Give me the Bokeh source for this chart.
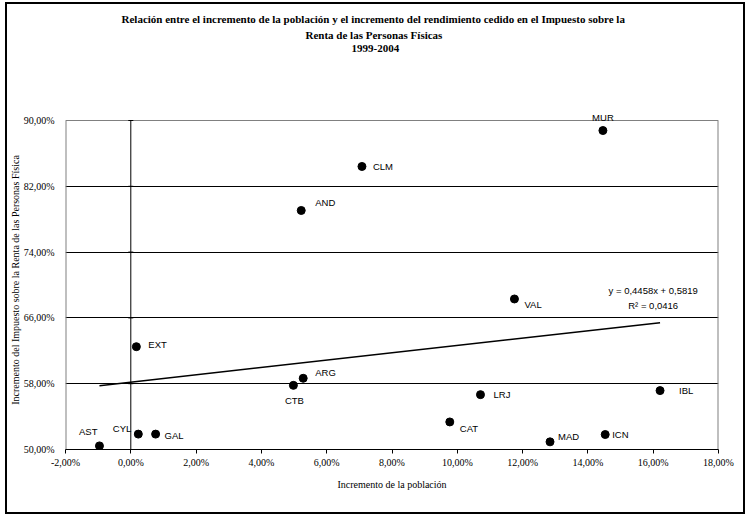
import numpy as np
from bokeh.plotting import figure
from bokeh.models import FixedTicker, Label, Title, ColumnDataSource
from bokeh.embed import file_html
from bokeh.resources import INLINE

# Comunidades autónomas: incremento de población e incremento del IRPF cedido (1999-2004), en %
regions = ["AND", "ARG", "AST", "IBL", "ICN", "CTB", "CLM", "CYL",
           "CAT", "EXT", "GAL", "MAD", "MUR", "LRJ", "VAL"]
pop_growth = [5.22, 5.28, -0.96, 16.21, 14.53, 4.98, 7.08, 0.23,
              9.77, 0.17, 0.76, 12.84, 14.46, 10.71, 11.75]
irpf_growth = [79.06, 58.66, 50.44, 57.16, 51.82, 57.80, 84.41, 51.87,
               53.35, 62.50, 51.87, 50.93, 88.78, 56.67, 68.30]

# Linear trend (fraction units) as reported on the chart
trend_slope = 0.4458
trend_intercept = 0.5819
trend_r2 = 0.0416

x_ticks = [-2, 0, 2, 4, 6, 8, 10, 12, 14, 16, 18]
x_tick_labels = ["-2,00%", "0,00%", "2,00%", "4,00%", "6,00%", "8,00%",
                 "10,00%", "12,00%", "14,00%", "16,00%", "18,00%"]
y_ticks = [50, 58, 66, 74, 82, 90]
y_tick_labels = ["50,00%", "58,00%", "66,00%", "74,00%", "82,00%", "90,00%"]

title_lines = [
    "Relación entre el incremento de la población y el incremento del rendimiento cedido en el Impuesto sobre la",
    "Renta de las Personas Físicas",
    "1999-2004",
]
x_title = "Incremento de la población"
y_title = "Incremento del Impuesto sobre la Renta de las Personas Física"

# Label placement per region: (dx, dy) in pixels (dy downwards) and alignment
label_style = {
    "MUR": (0, -13, "center"), "CLM": (11, 0, "left"), "AND": (14, -8, "left"),
    "VAL": (10, 6, "left"), "EXT": (12, -2, "left"), "ARG": (12, -6, "left"),
    "CTB": (1, 15, "center"), "LRJ": (13, 0, "left"), "IBL": (19, 0, "left"),
    "CAT": (10, 7, "left"), "MAD": (8, -5, "left"), "ICN": (7, 0, "left"),
    "AST": (-2, -14, "right"), "CYL": (-7, -6, "right"), "GAL": (9, 1, "left"),
}

SERIF = "Liberation Serif"
SANS = "Liberation Sans"
W, H = 748, 514
BORDER_L, BORDER_R, BORDER_T, BORDER_B = 65, 30, 110, 65
HEADROOM = 10  # pixels of frame kept above the 90 % line for the top label

frame_h = H - BORDER_T - BORDER_B
y_pad = (y_ticks[-1] - y_ticks[0]) * HEADROOM / (frame_h - HEADROOM)

p = figure(width=W, height=H, output_backend="svg", toolbar_location=None,
           x_range=(x_ticks[0], x_ticks[-1]),
           y_range=(y_ticks[0], y_ticks[-1] + y_pad),
           min_border_left=BORDER_L, min_border_right=BORDER_R,
           min_border_top=BORDER_T, min_border_bottom=BORDER_B)
p.background_fill_color = "white"
p.border_fill_color = "white"
p.outline_line_color = None
# thin black frame around the whole chart
p.stylesheets = [":host::after { content: ''; position: absolute; left: 5px; top: 2px; "
                 "width: 736px; height: 508px; border: 2px solid black; "
                 "pointer-events: none; z-index: 100; }"]

# axes
p.xaxis.ticker = FixedTicker(ticks=x_ticks)
p.xaxis.major_label_overrides = dict(zip(x_ticks, x_tick_labels))
p.xaxis.minor_tick_line_color = None
p.xaxis.major_tick_out = 4
p.xaxis.major_tick_in = 0
p.xaxis.axis_line_color = "black"
p.xaxis.major_tick_line_color = "black"
p.xaxis.major_label_standoff = 3
p.xaxis.major_label_text_font = SERIF
p.xaxis.major_label_text_font_size = "10px"
p.xaxis.major_label_text_color = "black"
p.xaxis.axis_label = x_title
p.xaxis.axis_label_standoff = 8
p.xaxis.axis_label_text_font = SERIF
p.xaxis.axis_label_text_font_size = "10px"
p.xaxis.axis_label_text_font_style = "normal"
p.xaxis.axis_label_text_color = "black"

p.yaxis.ticker = FixedTicker(ticks=y_ticks)
p.yaxis.major_label_overrides = dict(zip(y_ticks, y_tick_labels))
p.yaxis.minor_tick_line_color = None
p.yaxis.major_tick_line_color = None
p.yaxis.axis_line_color = None
p.yaxis.major_label_standoff = 5
p.yaxis.major_label_text_font = SERIF
p.yaxis.major_label_text_font_size = "10px"
p.yaxis.major_label_text_color = "black"
p.yaxis.axis_label = y_title
p.yaxis.axis_label_standoff = 0
p.yaxis.axis_label_text_font = SERIF
p.yaxis.axis_label_text_font_size = "10px"
p.yaxis.axis_label_text_font_style = "normal"
p.yaxis.axis_label_text_color = "black"

p.xgrid.visible = False
p.ygrid.ticker = FixedTicker(ticks=y_ticks[1:-1])
p.ygrid.grid_line_color = "black"
p.ygrid.grid_line_width = 1

# plot-area frame (top, left, right) in grey
x0, x1, y0, y1 = x_ticks[0], x_ticks[-1], y_ticks[0], y_ticks[-1]
p.multi_line(xs=[[x0, x1], [x0, x0], [x1, x1]], ys=[[y1, y1], [y0, y1], [y0, y1]],
             line_color="#808080", line_width=[1, 2, 2])

# vertical axis crossing at 0 % with its small tick marks
p.segment(x0=[0], y0=[y0], x1=[0], y1=[y1], line_color="black", line_width=1)
p.scatter(x=[0] * len(y_ticks), y=y_ticks, marker="dash", size=5, line_color="black")

# trend line over the range of the data
xs = np.array([min(pop_growth), max(pop_growth)])
ys = 100 * (trend_slope * xs / 100 + trend_intercept)
p.line(xs, ys, line_color="black", line_width=1.5)

src = ColumnDataSource(dict(x=pop_growth, y=irpf_growth, name=regions))
p.scatter("x", "y", source=src, size=8, fill_color="black", line_color="black")

for name, xv, yv in zip(regions, pop_growth, irpf_growth):
    dx, dy, align = label_style[name]
    p.add_layout(Label(x=xv, y=yv, text=name, x_offset=dx, y_offset=-dy,
                       text_align=align, text_baseline="middle",
                       text_font=SANS, text_font_size="9.5px", text_color="black"))

fmt = lambda v: f"{v:.4f}".replace(".", ",")
p.add_layout(Label(x=16.0, y=69.3, text=f"y = {fmt(trend_slope)}x + {fmt(trend_intercept)}",
                   text_align="center", text_baseline="middle",
                   text_font=SANS, text_font_size="9.5px", text_color="black"))
p.add_layout(Label(x=16.0, y=67.5, text=f"R² = {fmt(trend_r2)}",
                   text_align="center", text_baseline="middle",
                   text_font=SANS, text_font_size="9.5px", text_color="black"))

# blank band between the heading and the plot area
p.add_layout(Title(text=" ", standoff=44, text_font=SERIF, text_font_size="11px"), "above")

# three-line heading, added from the frame outward; left offsets centre each line
title_offsets = [286, 240, 56]
for line, off in zip(reversed(title_lines), title_offsets):
    p.add_layout(Title(text=line, align="left", offset=off, standoff=2,
                       text_font=SERIF, text_font_style="bold", text_font_size="11px",
                       text_color="black"), "above")

open("out.html", "w").write(file_html(p, INLINE))
